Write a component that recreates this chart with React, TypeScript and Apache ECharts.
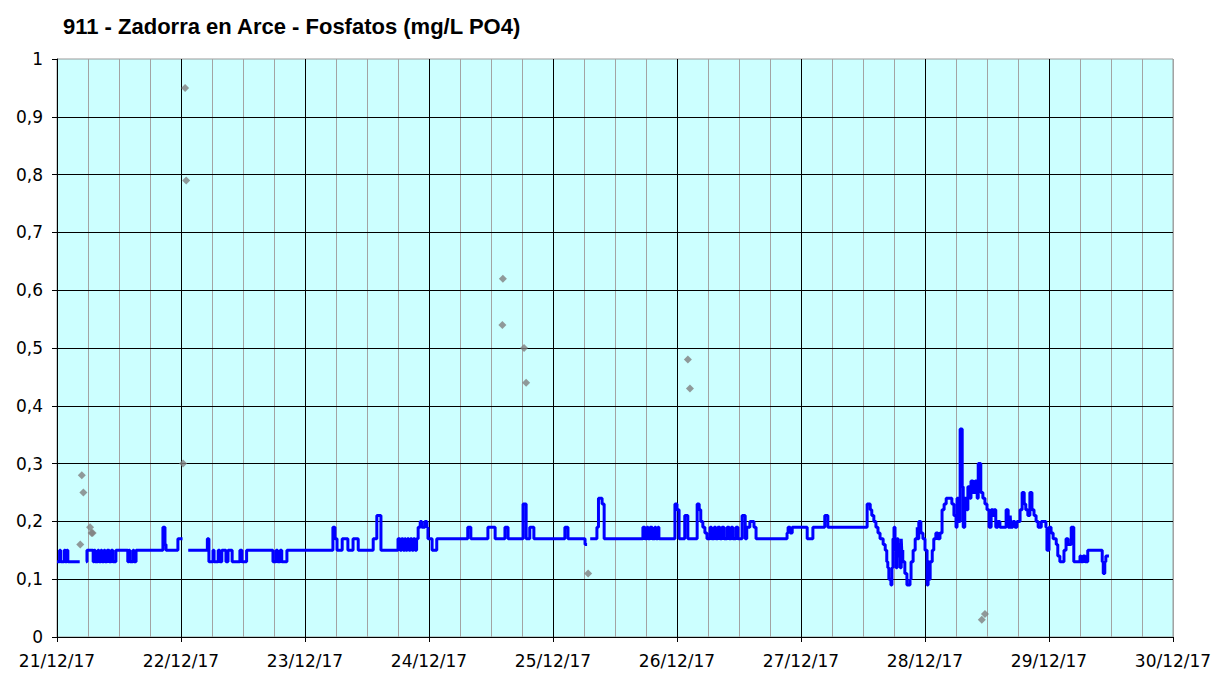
import React, { useEffect, useRef } from "react";
import * as echarts from "echarts";

// Time is expressed in hours from 21/12/17 00:00
const TITLE = "911 - Zadorra en Arce - Fosfatos (mg/L PO4)";
const FIRST_DAY = 21;
const HOURS_MAX = 216;

type Pt = [number, number | null];

// Continuous sensor line, split by day
const line21: Pt[] = [
  [0.0, 0.13], [0.5, 0.15], [0.7, 0.13], [1.4, 0.15], [1.6, 0.13], [1.9, 0.15], [2.1, 0.13], [4.4, 0.13], [4.5, null],
  [5.6, 0.13], [5.8, 0.15], [7.0, 0.13], [7.2, 0.15], [7.4, 0.13], [7.9, 0.15], [8.1, 0.13], [8.5, 0.15], [8.7, 0.13],
  [9.1, 0.15], [9.3, 0.13], [9.7, 0.15], [10.1, 0.13], [10.5, 0.15], [10.8, 0.13], [11.4, 0.15], [13.7, 0.13], [13.9, 0.15],
  [14.1, 0.13], [14.7, 0.15], [14.9, 0.13], [15.3, 0.15], [20.5, 0.19], [20.9, 0.16], [21.1, 0.15], [23.4, 0.17], [24.3, 0.17], [24.4, null],
];
const line22: Pt[] = [
  [25.4, 0.15], [29.1, 0.17], [29.4, 0.13], [30.2, 0.15], [30.4, 0.13], [31.2, 0.15], [31.5, 0.13], [31.9, 0.15], [32.7, 0.13],
  [33.1, 0.15], [33.9, 0.13], [35.4, 0.15], [35.8, 0.13], [36.7, 0.15], [41.8, 0.13], [42.4, 0.15], [42.7, 0.13], [43.2, 0.15],
  [43.5, 0.13], [44.5, 0.15],
];
const line23: Pt[] = [
  [53.4, 0.19], [53.8, 0.17], [54.2, 0.15], [55.2, 0.17], [56.3, 0.15], [57.3, 0.17], [58.3, 0.15], [61.2, 0.17], [61.9, 0.21],
  [62.7, 0.15], [66.0, 0.17], [66.4, 0.15], [66.7, 0.17], [67.0, 0.15], [67.3, 0.17], [67.5, 0.15], [67.8, 0.17], [68.1, 0.15],
  [68.4, 0.17], [68.7, 0.15], [69.0, 0.17], [69.3, 0.15], [69.6, 0.17], [69.9, 0.19], [70.3, 0.2], [70.6, 0.19], [71.2, 0.2],
  [71.6, 0.19], [71.8, 0.17],
];
const line24: Pt[] = [
  [72.6, 0.15], [73.5, 0.17], [79.5, 0.19], [80.1, 0.17], [83.4, 0.19], [84.8, 0.17], [86.7, 0.19], [87.3, 0.17], [90.2, 0.23],
  [90.8, 0.17], [91.5, 0.19], [92.3, 0.17],
];
const line25: Pt[] = [
  [98.3, 0.19], [98.9, 0.17], [102.2, 0.16], [102.6, 0.16], [102.7, null], [103.2, 0.17], [104.5, 0.19], [104.8, 0.24],
  [105.5, 0.23], [105.9, 0.17], [113.4, 0.19], [113.8, 0.17], [114.2, 0.19], [114.4, 0.17], [114.8, 0.19], [115.2, 0.17],
  [115.7, 0.19], [115.9, 0.17], [116.3, 0.19], [116.5, 0.17],
];
const line26: Pt[] = [
  [119.6, 0.23], [120.0, 0.22], [120.4, 0.17], [121.5, 0.21], [122.1, 0.17], [123.9, 0.23], [124.3, 0.22], [124.6, 0.2],
  [125.0, 0.19], [125.4, 0.18], [125.8, 0.17], [126.4, 0.19], [126.7, 0.17], [127.2, 0.19], [127.5, 0.17], [127.9, 0.19],
  [128.3, 0.17], [128.7, 0.19], [129.1, 0.17], [129.7, 0.19], [130.1, 0.17], [130.5, 0.19], [130.8, 0.17], [131.4, 0.19],
  [131.8, 0.17], [132.6, 0.21], [133.2, 0.17], [133.5, 0.19], [134.1, 0.2], [134.9, 0.19], [135.3, 0.17],
];
const line27: Pt[] = [
  [141.3, 0.18], [141.5, 0.19], [141.9, 0.18], [142.3, 0.19], [145.2, 0.17], [146.3, 0.19], [148.6, 0.21], [149.2, 0.19],
  [156.8, 0.23], [157.4, 0.22], [157.7, 0.21], [158.1, 0.2], [158.5, 0.19], [158.9, 0.18], [159.3, 0.17], [159.9, 0.16],
  [160.3, 0.15], [160.6, 0.13], [160.8, 0.12], [161.0, 0.1], [161.4, 0.09], [161.6, 0.12], [161.8, 0.17], [162.0, 0.19],
  [162.2, 0.15], [162.4, 0.12], [162.6, 0.17], [162.8, 0.14], [163.0, 0.16], [163.2, 0.12], [163.4, 0.17], [163.5, 0.15],
  [163.7, 0.13], [164.1, 0.11], [164.5, 0.09], [165.1, 0.1], [165.3, 0.13], [165.7, 0.15], [166.1, 0.17], [166.5, 0.19],
  [166.6, 0.17], [166.8, 0.2], [167.2, 0.18], [167.6, 0.17],
];
const line28: Pt[] = [
  [168.0, 0.15], [168.4, 0.09], [168.6, 0.13], [168.8, 0.1], [169.0, 0.13], [169.4, 0.15], [169.7, 0.17], [170.1, 0.18],
  [170.5, 0.17], [170.9, 0.18], [171.3, 0.22], [171.7, 0.23], [172.1, 0.24], [173.2, 0.23], [173.6, 0.21], [174.0, 0.19],
  [174.2, 0.24], [174.6, 0.2], [174.8, 0.36], [175.2, 0.26], [175.4, 0.19], [175.7, 0.24], [176.1, 0.22], [176.3, 0.26],
  [176.7, 0.24], [176.9, 0.27], [177.3, 0.25], [177.7, 0.27], [178.1, 0.24], [178.3, 0.3], [178.8, 0.25], [179.2, 0.24],
  [179.6, 0.23], [180.0, 0.22], [180.4, 0.19], [180.8, 0.22], [181.2, 0.21], [181.4, 0.22], [181.7, 0.19], [182.1, 0.2],
  [182.5, 0.19], [183.7, 0.22], [184.1, 0.19], [184.5, 0.21], [184.6, 0.19], [185.0, 0.2], [185.4, 0.19], [185.8, 0.2],
  [186.4, 0.22], [186.8, 0.25], [187.2, 0.23], [187.5, 0.22], [187.9, 0.21], [188.3, 0.25], [188.7, 0.22], [189.1, 0.21],
  [189.5, 0.2], [189.9, 0.19], [190.5, 0.2], [191.4, 0.19], [191.6, 0.15],
];
const line29: Pt[] = [
  [192.0, 0.19], [192.4, 0.18], [192.8, 0.17], [193.4, 0.16], [193.7, 0.14], [194.1, 0.13], [194.9, 0.15], [195.3, 0.17],
  [195.7, 0.16], [196.3, 0.19], [196.8, 0.13], [198.0, 0.14], [198.2, 0.13], [198.6, 0.14], [199.0, 0.13], [199.5, 0.15],
  [202.3, 0.13], [202.5, 0.11], [202.8, 0.13], [203.0, 0.14], [203.6, 0.14],
];

// Laboratory samples (grey diamonds)
const sampleHours = [4.5, 4.8, 5.1, 6.4, 6.7, 6.9, 24.4, 24.8, 25.0, 86.3, 86.2, 90.4, 90.8, 102.8, 122.1, 122.5, 179.0, 179.6];
const sampleValues = [0.16, 0.28, 0.25, 0.19, 0.18, 0.18, 0.3, 0.95, 0.79, 0.62, 0.54, 0.5, 0.44, 0.11, 0.48, 0.43, 0.03, 0.04];

const TICK_FONT = "DejaVu Sans";

export default function App() {
  const ref = useRef<HTMLDivElement>(null);

  useEffect(() => {
    if (!ref.current) return;
    const chart = echarts.init(ref.current, undefined, { renderer: "svg" });

    const lineData = [...line21, ...line22, ...line23, ...line24, ...line25, ...line26, ...line27, ...line28, ...line29].map(
      ([h, v]) => [h, v === null ? "-" : v]
    );
    const sampleData = sampleHours.map((h, i) => [h, sampleValues[i]]);

    chart.setOption({
      animation: false,
      backgroundColor: "#ffffff",
      title: {
        text: TITLE,
        left: 58,
        top: 10,
        textStyle: {
          fontFamily: "Liberation Sans",
          fontWeight: "bold",
          fontSize: 22,
          color: "#000000",
        },
      },
      grid: {
        left: 57,
        right: 59,
        top: 59,
        bottom: 41,
        show: true,
        backgroundColor: "#CCFFFF",
        borderColor: "#9A9A9A",
        borderWidth: 1,
        containLabel: false,
      },
      xAxis: [
        {
          type: "value",
          position: "bottom",
          min: 0,
          max: HOURS_MAX,
          interval: 6,
          z: 1,
          axisLine: { show: false },
          axisTick: { show: false },
          axisLabel: { show: false },
          splitLine: { show: true, lineStyle: { color: "#A3A3A3", width: 1 } },
        },
        {
          type: "value",
          position: "bottom",
          min: 0,
          max: HOURS_MAX,
          interval: 24,
          z: 2,
          axisLine: { show: true, onZero: false, lineStyle: { color: "#000000", width: 1 } },
          axisTick: { show: true, length: 5, lineStyle: { color: "#000000" } },
          axisLabel: {
            show: true,
            margin: 15,
            fontFamily: TICK_FONT,
            fontSize: 17,
            color: "#000000",
            formatter: (v: number) => `${FIRST_DAY + Math.round(v / 24)}/12/17`,
          },
          splitLine: { show: true, showMaxLine: false, lineStyle: { color: "#000000", width: 1 } },
        },
      ],
      yAxis: {
        type: "value",
        min: 0,
        max: 1,
        interval: 0.1,
        z: 2,
        axisLine: { show: true, lineStyle: { color: "#000000", width: 1 } },
        axisTick: { show: true, length: 5, lineStyle: { color: "#000000" } },
        axisLabel: {
          margin: 14,
          fontFamily: TICK_FONT,
          fontSize: 17,
          color: "#000000",
          formatter: (v: number) => String(+v.toFixed(1)).replace(".", ","),
        },
        splitLine: { show: true, showMaxLine: false, lineStyle: { color: "#000000", width: 1 } },
      },
      series: [
        {
          type: "line",
          xAxisIndex: 1,
          data: lineData,
          step: "end",
          symbol: "none",
          showSymbol: false,
          connectNulls: false,
          lineStyle: { color: "#0000FF", width: 3 },
          itemStyle: { color: "#0000FF" },
          z: 3,
        },
        {
          type: "scatter",
          xAxisIndex: 1,
          data: sampleData,
          symbol: "diamond",
          symbolSize: 8,
          itemStyle: { color: "#808080" },
          z: 4,
        },
      ],
    });

    return () => chart.dispose();
  }, []);

  return (
    <div
      ref={ref}
      style={{ position: "fixed", left: 0, top: 0, width: 1232, height: 678 }}
    />
  );
}
